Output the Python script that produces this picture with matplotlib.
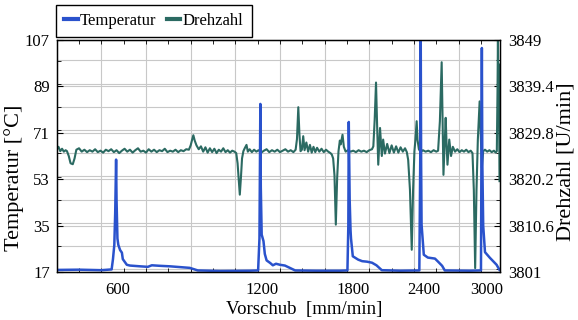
import matplotlib
matplotlib.use('Agg')
import matplotlib.pyplot as plt
from matplotlib.ticker import MultipleLocator, FixedLocator
from matplotlib.lines import Line2D

plt.rcParams['font.family'] = ['Liberation Serif', 'DejaVu Serif']

# Zeitachse (willkuerliche Einheit, Gitter alle 10)
temp_t = [0, 5, 10, 12.3, 12.6, 12.9, 13.1, 13.3, 13.4, 13.6, 13.8, 14.2, 14.6, 14.8, 15.7, 16.4,
          18.7, 20.4, 21.3, 23.1, 25.4, 27.6, 29.8, 31.6, 36.6, 43.3, 45.1, 45.4, 45.6, 45.7, 45.9,
          46.3, 46.6, 47.0, 47.8, 48.4, 49.1, 50.0, 51.1, 52.2, 53.4, 58.0, 63.4, 65.1, 65.3, 65.4,
          65.6, 65.8, 65.9, 66.3, 67.5, 68.4, 69.5, 70.6, 71.6, 72.8, 76.9, 81.2, 81.4, 81.5, 81.6,
          81.7, 82.2, 83.1, 84.7, 85.4, 86.3, 86.9, 92.5, 95.0, 95.2, 95.3, 95.5, 95.9, 97.0, 98.5,
          99.15]
temp_c = [17.8, 17.9, 17.7, 18.0, 22.0, 27.5, 40.0, 60.6, 45.0, 30.0, 27.5, 25.5, 24.5, 22.0, 19.8, 19.5,
          19.2, 19.0, 19.6, 19.4, 19.2, 18.9, 18.6, 17.6, 17.4, 17.5, 17.6, 30.0, 82.2, 50.0, 31.5,
          29.0, 24.0, 21.5, 20.5, 19.6, 20.2, 19.8, 19.5, 18.6, 17.6, 17.5, 17.5, 17.6, 35.0, 75.2,
          45.0, 33.0, 30.0, 23.1, 21.8, 21.2, 21.0, 20.6, 19.6, 17.7, 17.5, 17.6, 60.0, 115.0, 60.0,
          35.4, 23.7, 22.6, 22.2, 21.0, 19.4, 17.6, 17.5, 17.6, 103.9, 60.0, 35.0, 24.7, 22.5, 19.8,
          17.8]

# (zeit, drehzahl)
drehzahl = [
    (0, 3826.3), (0.4, 3826.9), (0.8, 3826.0), (1.2, 3826.5), (1.6, 3825.9), (2.0, 3826.2),
    (2.3, 3826.0), (2.7, 3825.0), (3.1, 3823.5), (3.6, 3823.3), (4.0, 3824.5), (4.4, 3826.3),
    (5.0, 3826.6), (5.6, 3825.9), (6.2, 3826.3), (6.8, 3825.8), (7.4, 3826.2), (8.0, 3825.9),
    (8.6, 3826.4), (9.2, 3825.8), (9.8, 3826.1), (10.4, 3825.7), (11.0, 3826.3), (11.6, 3826.0),
    (12.2, 3826.4), (12.8, 3825.8), (13.4, 3826.2), (14.0, 3825.6), (14.6, 3826.1), (15.2, 3826.5),
    (15.8, 3825.9), (16.4, 3826.3), (17.0, 3825.7), (17.6, 3826.2), (18.2, 3826.6), (18.8, 3825.9),
    (19.4, 3826.1), (20.0, 3825.7), (20.6, 3826.4), (21.2, 3825.9), (21.8, 3826.3), (22.4, 3825.8),
    (23.0, 3826.2), (23.6, 3826.0), (24.2, 3826.5), (24.8, 3825.8), (25.4, 3826.1), (26.0, 3825.9),
    (26.6, 3826.3), (27.2, 3825.8), (27.8, 3826.2), (28.4, 3826.0), (29.0, 3826.4), (29.6, 3826.3),
    (30.0, 3827.2), (30.3, 3828.3), (30.6, 3829.3), (30.9, 3828.2), (31.3, 3827.2), (31.8, 3826.4),
    (32.3, 3827.0), (32.8, 3825.9), (33.3, 3826.8), (33.8, 3825.7), (34.3, 3826.6), (34.8, 3825.8),
    (35.3, 3826.5), (35.8, 3825.6), (36.3, 3826.3), (36.8, 3825.9), (37.3, 3826.6), (37.8, 3825.8),
    (38.3, 3826.2), (38.8, 3825.7), (39.3, 3826.1), (39.8, 3825.9), (40.2, 3825.6), (40.5, 3823.5),
    (40.8, 3819.5), (41.0, 3817.0), (41.25, 3820.5), (41.5, 3824.5), (41.8, 3826.0), (42.1, 3826.6),
    (42.5, 3827.3), (42.8, 3825.9), (43.2, 3826.4), (43.7, 3825.8), (44.2, 3826.3), (44.7, 3825.9),
    (45.2, 3826.2), (45.8, 3825.7), (46.4, 3826.1), (47.0, 3826.4), (47.6, 3825.8), (48.2, 3826.2),
    (48.8, 3825.9), (49.4, 3826.3), (50.0, 3825.8), (50.6, 3826.1), (51.2, 3826.4), (51.8, 3825.9),
    (52.4, 3826.2), (53.0, 3825.8), (53.5, 3826.3), (53.8, 3828.5), (54.1, 3835.1), (54.35, 3829.5),
    (54.6, 3826.0), (54.9, 3826.3), (55.2, 3829.1), (55.5, 3826.2), (55.9, 3827.8), (56.3, 3825.9),
    (56.7, 3827.3), (57.1, 3825.7), (57.5, 3826.9), (57.9, 3825.8), (58.3, 3826.7), (58.8, 3825.9),
    (59.3, 3826.5), (59.8, 3825.8), (60.3, 3826.3), (60.8, 3825.9), (61.3, 3825.6), (61.6, 3825.3),
    (61.9, 3824.5), (62.2, 3821.0), (62.5, 3810.8), (62.8, 3820.5), (63.1, 3826.0), (63.4, 3828.2),
    (63.6, 3827.4), (64.0, 3829.4), (64.3, 3826.9), (64.7, 3825.9), (65.2, 3826.2), (65.8, 3825.9),
    (66.4, 3826.1), (67.0, 3825.8), (67.6, 3826.2), (68.2, 3825.9), (68.8, 3826.1), (69.4, 3825.8),
    (70.0, 3826.2), (70.6, 3826.4), (70.9, 3827.0), (71.2, 3832.5), (71.5, 3840.2), (71.75, 3831.2),
    (72.0, 3823.2), (72.4, 3830.8), (72.8, 3825.0), (73.1, 3828.4), (73.5, 3825.5), (74.0, 3827.5),
    (74.5, 3825.6), (75.0, 3827.2), (75.5, 3825.7), (76.0, 3827.0), (76.5, 3825.7), (77.0, 3826.8),
    (77.5, 3825.9), (78.0, 3826.6), (78.4, 3825.8), (78.7, 3824.2), (79.1, 3818.0), (79.5, 3805.6),
    (79.8, 3818.0), (80.1, 3826.0), (80.3, 3828.1), (80.6, 3832.2), (80.8, 3828.3), (81.1, 3826.4),
    (81.5, 3825.8), (82.0, 3826.2), (82.6, 3825.9), (83.2, 3826.1), (83.8, 3825.8), (84.4, 3826.2),
    (85.0, 3825.9), (85.4, 3826.1), (85.8, 3832.2), (86.2, 3844.4), (86.4, 3832.0), (86.6, 3821.1),
    (86.9, 3828.4), (87.1, 3832.9), (87.3, 3827.4), (87.5, 3823.2), (87.9, 3828.4), (88.3, 3825.0),
    (88.7, 3826.9), (89.2, 3825.9), (89.7, 3826.4), (90.2, 3825.8), (90.7, 3826.2), (91.2, 3825.9),
    (91.7, 3826.3), (92.2, 3825.8), (92.7, 3826.1), (93.1, 3825.6), (93.4, 3818.0), (93.7, 3801.8),
    (94.0, 3818.0), (94.3, 3828.4), (94.7, 3836.3), (95.0, 3828.4), (95.2, 3822.6), (95.5, 3826.0),
    (95.9, 3826.3), (96.4, 3825.9), (96.9, 3826.2), (97.4, 3825.8), (97.9, 3826.1), (98.3, 3825.7),
    (98.55, 3826.0), (98.7, 3838.0), (98.8, 3849.5), (98.9, 3836.0), (99.0, 3844.0), (99.15, 3819.8),
]

vorschub_pos = [13.6, 46.0, 66.4, 82.2, 96.3]
vorschub_lbl = ['600', '1200', '1800', '2400', '3000']
temp_ticks = [17, 35, 53, 71, 89, 107]
dreh_ticks = [3801, 3810.6, 3820.2, 3829.8, 3839.4, 3849]
dreh_lbl = ['3801', '3810.6', '3820.2', '3829.8', '3839.4', '3849']

blau = '#2a52cc'
gruen = '#2b6a62'
grau = '#c8c8c8'

fig = plt.figure(figsize=(5.78, 3.2), dpi=100)
ax = fig.add_axes([56.7/578, 48/320, 442.8/578, 232/320])
ax2 = ax.twinx()
ax.set_zorder(3)
ax2.set_zorder(2)
ax.patch.set_visible(False)
ax2.patch.set_visible(True)
ax2.patch.set_facecolor('white')

ax.set_xlim(0, 99.15)
ax.set_ylim(17, 107)
ax2.set_ylim(3801, 3849)

# gitter auf ax2 (hinter den linien)
ax2.yaxis.set_major_locator(FixedLocator(dreh_ticks))
ax2.yaxis.set_minor_locator(MultipleLocator(4.8))
ax2.set_yticklabels(dreh_lbl)
ax2.grid(axis='y', which='both', color=grau, lw=0.8, zorder=0)
for g in range(10, 100, 10):
    ax2.axvline(g, color=grau, lw=0.8, zorder=0)

dt, dn = zip(*drehzahl)
ax2.plot(dt, dn, color=gruen, lw=1.5, zorder=2)
ax.plot(temp_t, temp_c, color=blau, lw=1.8, zorder=2)

ax.set_yticks(temp_ticks)
ax.yaxis.set_minor_locator(MultipleLocator(9))
ax.set_xticks(vorschub_pos)
ax.set_xticklabels(vorschub_lbl)
ax.xaxis.set_minor_locator(MultipleLocator(5))

ax.tick_params(axis='x', which='major', length=0, pad=7, labelsize=12)
ax.tick_params(axis='x', which='minor', direction='in', length=3, top=True, bottom=True)
ax.tick_params(axis='y', which='major', direction='in', length=4, pad=5, labelsize=12, right=False)
ax.tick_params(axis='y', which='minor', direction='in', length=3, right=False)
ax2.tick_params(axis='y', which='major', direction='in', length=4, pad=6, labelsize=12)
ax2.tick_params(axis='y', which='minor', direction='in', length=3)

for sp in ax.spines.values():
    sp.set_linewidth(1.0)
    sp.set_color('black')

ax.set_xlabel('Vorschub  [mm/min]', fontsize=13.5)
ax.xaxis.set_label_coords(0.558, -0.125)
ax.set_ylabel('Temperatur [°C]', fontsize=16)
ax.yaxis.set_label_coords(-0.074, 0.405)
ax2.set_ylabel('Drehzahl [U/min]', fontsize=16, rotation=90)
ax2.yaxis.set_label_coords(1.128, 0.474)

handles = [Line2D([], [], color=blau, lw=3), Line2D([], [], color=gruen, lw=3)]
leg = fig.legend(handles, ['Temperatur', 'Drehzahl'], loc='lower left',
                 bbox_to_anchor=(0.097, 0.883), ncol=2, frameon=True, fancybox=False,
                 edgecolor='black', framealpha=1, fontsize=12, handlelength=0.8,
                 handletextpad=0.15, columnspacing=0.6, borderpad=0.5, borderaxespad=0)
leg.get_frame().set_linewidth(1.0)

fig.savefig('out.png', dpi=100)
